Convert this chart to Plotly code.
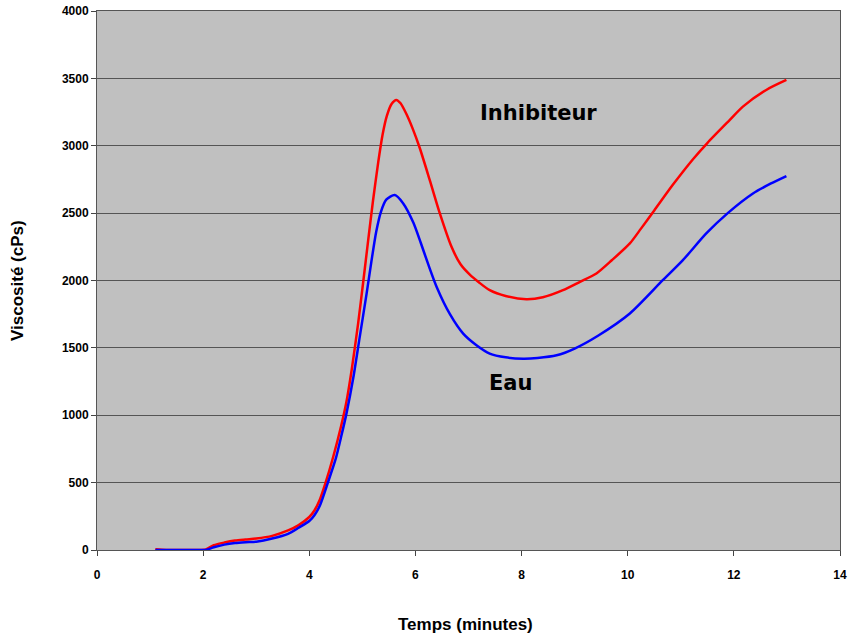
import plotly.graph_objects as go

# Viscosity over time, with inhibitor vs water
temps_inhibiteur = [1.1, 1.3, 1.6, 1.9, 2.05, 2.2, 2.4, 2.6, 2.8, 3.0, 3.3, 3.6, 3.8, 4.0,
                    4.1, 4.2, 4.3, 4.45, 4.6, 4.7, 4.8, 4.92, 5.02, 5.11, 5.2, 5.3, 5.38,
                    5.46, 5.55, 5.64, 5.72, 5.83, 5.95, 6.08, 6.27, 6.46, 6.68, 6.85, 7.02,
                    7.2, 7.4, 7.7, 8.09, 8.4, 8.78, 9.1, 9.41, 9.7, 10.04, 10.25, 10.5,
                    10.85, 11.23, 11.5, 11.92, 12.17, 12.61, 12.99]
visc_inhibiteur = [5, 0, 0, 0, 5, 35, 55, 70, 78, 85, 105, 145, 185, 245,
                   295, 375, 490, 690, 920, 1100, 1340, 1680, 2002, 2299, 2590, 2880, 3080,
                   3220, 3310, 3340, 3315, 3235, 3125, 2985, 2745, 2498, 2250, 2120, 2045,
                   1985, 1928, 1885, 1861, 1875, 1928, 1990, 2052, 2150, 2275, 2385, 2520,
                   2710, 2900, 3020, 3190, 3290, 3414, 3488]

temps_eau = [1.1, 1.5, 1.9, 2.05, 2.2, 2.4, 2.6, 2.8, 3.0, 3.3, 3.6, 3.8, 4.0, 4.1,
             4.2, 4.35, 4.5, 4.6, 4.7, 4.83, 4.95, 5.08, 5.17, 5.26, 5.35, 5.45, 5.61,
             5.77, 5.96, 6.1, 6.25, 6.4, 6.65, 6.9, 7.15, 7.4, 7.7, 8.03, 8.3, 8.66, 9.0,
             9.44, 10.04, 10.66, 11.04, 11.48, 11.89, 12.36, 12.7, 12.99]
visc_eau = [0, 0, 0, 0, 20, 40, 52, 58, 62, 85, 120, 165, 215, 260,
            330, 500, 680, 840, 1012, 1280, 1580, 1903, 2140, 2360, 2510, 2600, 2634,
            2572, 2430, 2280, 2110, 1952, 1750, 1606, 1520, 1458, 1430, 1420, 1425, 1445, 1495,
            1590, 1755, 2002, 2151, 2349, 2502, 2646, 2720, 2775]

x_ticks = [0, 2, 4, 6, 8, 10, 12, 14]
y_ticks = [0, 500, 1000, 1500, 2000, 2500, 3000, 3500, 4000]

tick_font = dict(family="Liberation Sans, Arial, sans-serif", size=12, color="black", weight="bold")
title_font = dict(family="Liberation Sans, Arial, sans-serif", size=17, color="black", weight="bold")
label_font = dict(family="Comic Sans MS, DejaVu Sans, sans-serif", size=21, color="black", weight="bold")

fig = go.Figure()
fig.add_trace(go.Scatter(x=temps_inhibiteur, y=visc_inhibiteur, mode="lines",
                         line=dict(color="#FF0000", width=2.5, shape="spline", smoothing=0.7),
                         name="Inhibiteur"))
fig.add_trace(go.Scatter(x=temps_eau, y=visc_eau, mode="lines",
                         line=dict(color="#0000FF", width=2.5, shape="spline", smoothing=0.7),
                         name="Eau"))

# Curve labels
fig.add_annotation(x=8.32, y=3243, text="Inhibiteur", showarrow=False, font=label_font)
fig.add_annotation(x=7.8, y=1237, text="Eau", showarrow=False, font=label_font)

# Axis titles
fig.add_annotation(xref="paper", yref="paper", x=-0.107, y=0.5, text="Viscosité (cPs)",
                   textangle=-90, showarrow=False, font=title_font,
                   xanchor="center", yanchor="middle")
fig.add_annotation(xref="paper", yref="paper", x=0.4966, y=-0.139, text="Temps (minutes)",
                   showarrow=False, font=title_font, xanchor="center", yanchor="middle")

fig.update_layout(
    width=851, height=637,
    margin=dict(l=97, r=11, t=11, b=87),
    paper_bgcolor="white",
    plot_bgcolor="#C0C0C0",
    showlegend=False,
    xaxis=dict(range=[0, 14], tickvals=x_ticks, ticks="outside", ticklen=5,
               tickcolor="#444", tickwidth=1, showgrid=False, zeroline=False,
               showline=True, linecolor="#555", linewidth=1, mirror=True,
               tickfont=tick_font, ticklabelstandoff=9, automargin=False),
    yaxis=dict(range=[0, 4000], tickvals=y_ticks, ticks="outside", ticklen=5,
               tickcolor="#444", tickwidth=1, showgrid=True, gridcolor="#555",
               gridwidth=1, zeroline=False, showline=True, linecolor="#555",
               linewidth=1, mirror=True, tickfont=tick_font, automargin=False),
)

fig.write_html("out.html")
